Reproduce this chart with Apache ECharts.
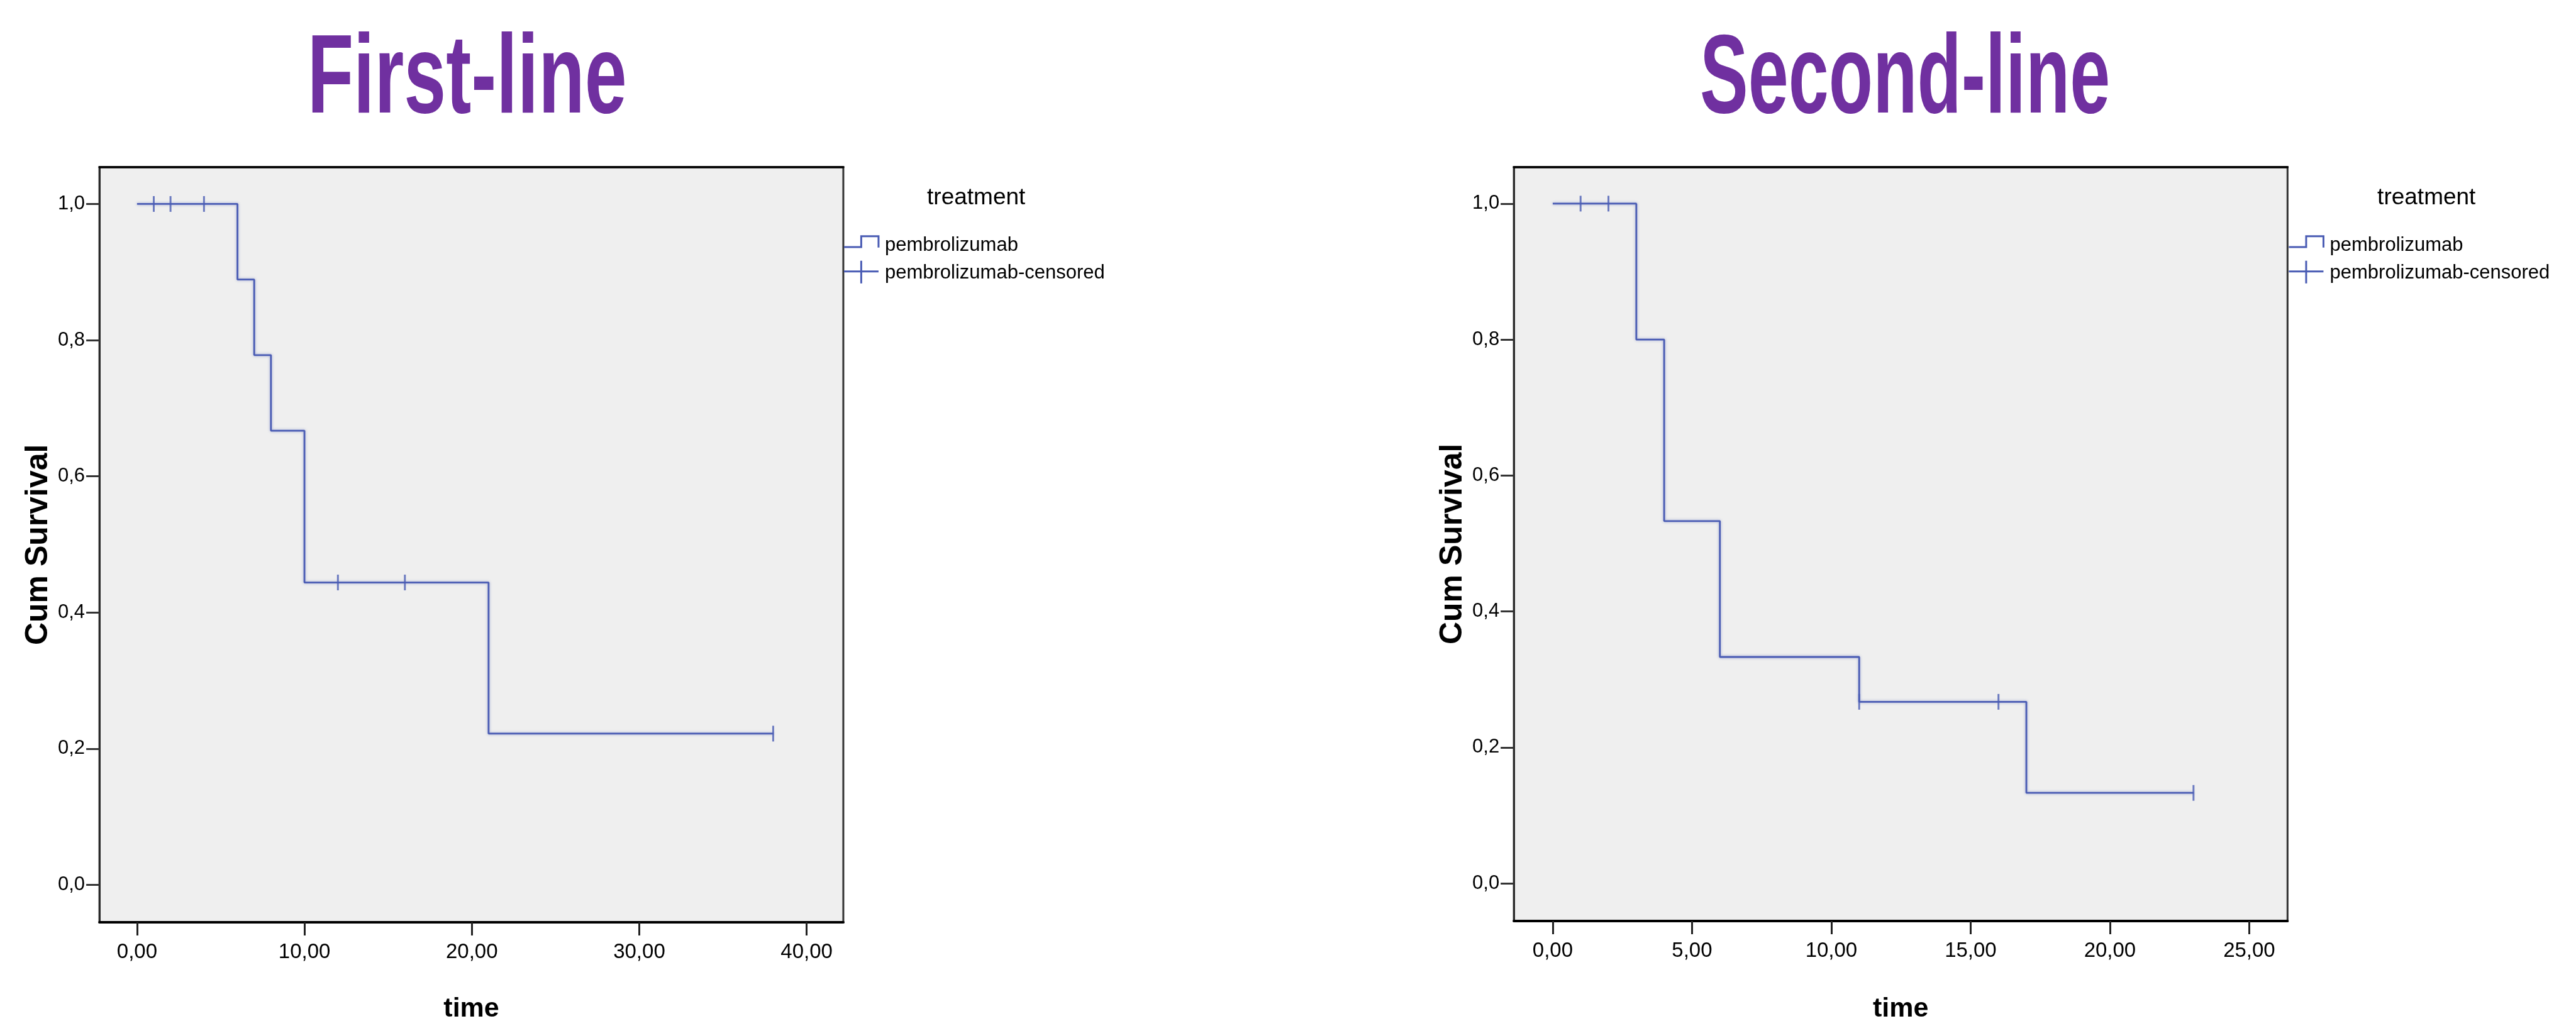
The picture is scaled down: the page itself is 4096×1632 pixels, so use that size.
<!DOCTYPE html>
<html>
<head>
<meta charset="utf-8">
<script src="https://cdn.jsdelivr.net/npm/echarts@6/dist/echarts.min.js"></script>
<style>
  html, body { margin: 0; padding: 0; background: #ffffff; }
  #chart { width: 4096px; height: 1632px; }
</style>
</head>
<body>
<div id="chart"></div>
<script>
// ---------------- data ----------------
const titles = ['First-line', 'Second-line'];
const legendTitle = 'treatment';
const legendNames = ['pembrolizumab', 'pembrolizumab-censored'];
const xAxisName = 'time';
const yAxisName = 'Cum Survival';

const firstTimes = [0, 6, 7, 8, 10, 21, 38];
const firstSurv = [1.0, 0.889, 0.778, 0.667, 0.444, 0.222, 0.222];
const firstCensorTimes = [1, 2, 4, 12, 16, 38];
const firstCensorSurv = [1.0, 1.0, 1.0, 0.444, 0.444, 0.222];

const secondTimes = [0, 3, 4, 6, 11, 17, 23];
const secondSurv = [1.0, 0.8, 0.533, 0.333, 0.267, 0.133, 0.133];
const secondCensorTimes = [1, 2, 11, 16, 23];
const secondCensorSurv = [1.0, 1.0, 0.267, 0.267, 0.133];

const firstXTicks = [0, 10, 20, 30, 40];
const secondXTicks = [0, 5, 10, 15, 20, 25];
const yTicks = [0, 0.2, 0.4, 0.6, 0.8, 1.0];

// ---------------- layout ----------------
const S = 0.949;
const FONT = "'Liberation Sans', Arial, sans-serif";
const LINE_COLOR = '#4a5cb4';
const PURPLE = '#7030a0';

const zip = (a, b) => a.map((v, i) => [v, b[i]]);
const fmtX = v => v.toFixed(2).replace('.', ',');
const fmtY = v => v.toFixed(1).replace('.', ',');

// boxes in reference px
const boxes = [
  { l: 166.6, r: 1413.0, t: 279.8, b: 1557.7, xmin: -2.246, xmax: 42.19, ymin: -0.0551, ymax: 1.0544, ticks: firstXTicks, gap: 117 },
  { l: 2536.5, r: 3832.8, t: 279.8, b: 1567.8, xmin: -1.395, xmax: 26.375, ymin: -0.0555, ymax: 1.054, ticks: secondXTicks, gap: 119 }
];

const grids = [], xAxes = [], yAxes = [];
boxes.forEach((bx, i) => {
  grids.push({
    left: bx.l * S, top: bx.t * S, width: (bx.r - bx.l) * S, height: (bx.b - bx.t) * S,
    show: true, backgroundColor: '#efefef', borderColor: '#333333', borderWidth: 3
  });
  xAxes.push({
    type: 'value', gridIndex: i, position: 'bottom', min: bx.xmin, max: bx.xmax,
    name: xAxisName, nameLocation: 'middle', nameGap: bx.gap,
    nameTextStyle: { fontFamily: FONT, fontSize: 43, fontWeight: 'bold', color: '#000' },
    axisLine: { show: true, onZero: false, lineStyle: { color: '#000', width: 4 } },
    axisTick: { show: true, length: 21, customValues: bx.ticks, lineStyle: { color: '#222', width: 3 } },
    axisLabel: { show: true, customValues: bx.ticks, formatter: fmtX, margin: 31, fontFamily: FONT, fontSize: 33, color: '#000' },
    splitLine: { show: false }
  });
  xAxes.push({
    type: 'value', gridIndex: i, position: 'top', min: bx.xmin, max: bx.xmax,
    axisLine: { show: true, onZero: false, lineStyle: { color: '#000', width: 3.5 } },
    axisTick: { show: false }, axisLabel: { show: false }, splitLine: { show: false }
  });
  yAxes.push({
    type: 'value', gridIndex: i, position: 'left', min: bx.ymin, max: bx.ymax,
    name: yAxisName, nameLocation: 'middle', nameGap: 72, nameRotate: 90,
    nameTextStyle: { fontFamily: FONT, fontSize: 50, fontWeight: 'bold', color: '#000' },
    axisLine: { show: true, onZero: false, lineStyle: { color: '#2a2a2a', width: 3 } },
    axisTick: { show: true, length: 21, customValues: yTicks, lineStyle: { color: '#333', width: 3 } },
    axisLabel: { show: true, customValues: yTicks, formatter: fmtY, margin: 23, fontFamily: FONT, fontSize: 31, color: '#000' },
    splitLine: { show: false }
  });
});

const curves = [
  { t: firstTimes, s: firstSurv, ct: firstCensorTimes, cs: firstCensorSurv },
  { t: secondTimes, s: secondSurv, ct: secondCensorTimes, cs: secondCensorSurv }
];
const series = [];
curves.forEach((c, i) => {
  series.push({
    name: legendNames[0], type: 'line', xAxisIndex: i * 2, yAxisIndex: i,
    data: zip(c.t, c.s), step: 'end', symbol: 'none', z: 3,
    lineStyle: { color: LINE_COLOR, width: 2.8, shadowColor: 'rgba(74,92,180,0.45)', shadowBlur: 4 }
  });
  series.push({
    name: legendNames[1], type: 'scatter', xAxisIndex: i * 2, yAxisIndex: i,
    data: zip(c.ct, c.cs), symbol: 'rect', symbolSize: [3, 25], z: 4,
    itemStyle: { color: LINE_COLOR }
  });
});

// ---------------- graphic: titles & legends ----------------
const graphic = [];
const titleSpecs = [
  { cx: 782.5, scaleX: 0.672 },
  { cx: 3192.0, scaleX: 0.643 }
];
titles.forEach((t, i) => {
  graphic.push({
    type: 'text', x: titleSpecs[i].cx * S, y: 130, scaleX: titleSpecs[i].scaleX,
    style: { text: t, x: 0, y: 0, textAlign: 'center', textVerticalAlign: 'middle',
             font: 'bold 179px ' + FONT, fill: PURPLE }
  });
});

const legendOffsets = [{ dx: 0, tdx: 0 }, { dx: 2421, tdx: 2430 }];
legendOffsets.forEach(o => {
  const P = (x, y) => [(x + o.dx) * S, y * S];
  graphic.push({
    type: 'text', x: (1635.6 + o.tdx) * S, y: 331.7 * S,
    style: { text: legendTitle, textAlign: 'center', textVerticalAlign: 'middle', font: '37px ' + FONT, fill: '#000' }
  });
  graphic.push({
    type: 'polyline',
    shape: { points: [P(1414, 414), P(1443, 414), P(1443, 396), P(1472, 396), P(1472, 415)] },
    style: { stroke: LINE_COLOR, lineWidth: 3, fill: null }
  });
  graphic.push({
    type: 'text', x: (1482.6 + o.dx) * S, y: 411 * S,
    style: { text: legendNames[0], textAlign: 'left', textVerticalAlign: 'middle', font: '31px ' + FONT, fill: '#000' }
  });
  graphic.push({
    type: 'polyline', shape: { points: [P(1414, 455), P(1472, 455)] },
    style: { stroke: LINE_COLOR, lineWidth: 3, fill: null }
  });
  graphic.push({
    type: 'polyline', shape: { points: [P(1443, 437), P(1443, 475)] },
    style: { stroke: LINE_COLOR, lineWidth: 3, fill: null }
  });
  graphic.push({
    type: 'text', x: (1482.6 + o.dx) * S, y: 458 * S,
    style: { text: legendNames[1], textAlign: 'left', textVerticalAlign: 'middle', font: '31px ' + FONT, fill: '#000' }
  });
});

const chart = echarts.init(document.getElementById('chart'), null, { renderer: 'canvas' });
chart.setOption({
  backgroundColor: '#ffffff',
  animation: false,
  grid: grids,
  xAxis: xAxes,
  yAxis: yAxes,
  series: series,
  graphic: graphic
});
</script>
</body>
</html>
